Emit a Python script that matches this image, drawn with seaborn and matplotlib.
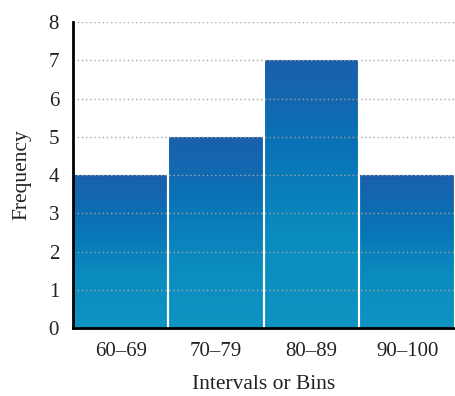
import matplotlib
matplotlib.use("Agg")
import matplotlib.pyplot as plt
import seaborn as sns
import numpy as np
import pandas as pd
from matplotlib.colors import LinearSegmentedColormap

categories = ["60\u201369", "70\u201379", "80\u201389", "90\u2013100"]
frequency = [4, 5, 7, 4]
y_ticks = [0, 1, 2, 3, 4, 5, 6, 7, 8]

sns.set_style("white")
plt.rcParams['font.family'] = ['Liberation Serif', 'DejaVu Serif']

df = pd.DataFrame({"bin": categories, "freq": frequency})

fig = plt.figure(figsize=(4.55, 3.96), dpi=100)
ax = fig.add_axes([0.1604, 0.1717, 0.8396, 0.7727])

sns.barplot(data=df, x="bin", y="freq", ax=ax, width=1.0, color="#0a78b8",
            edgecolor="white", linewidth=1.5, zorder=2)

cmap = LinearSegmentedColormap.from_list("g", ["#1b5fab", "#0873b6", "#0b8cbf", "#0f93c2"])
grad = np.linspace(0, 1, 256).reshape(-1, 1)
for p in list(ax.patches):
    x0, y0 = p.get_x(), p.get_y()
    w, h = p.get_width(), p.get_height()
    im = ax.imshow(grad, cmap=cmap, aspect="auto", extent=[x0, x0 + w, y0, y0 + h],
                   origin="upper", zorder=2.5, interpolation="bilinear")
    im.set_clip_path(p)
    ax.plot([x0, x0], [0, h], color="white", lw=1.5, zorder=2.7)
    ax.plot([x0 + w, x0 + w], [0, h], color="white", lw=1.5, zorder=2.7)

ax.set_xlim(-0.5, 3.5)
ax.set_ylim(0, 8)
ax.set_yticks(y_ticks)
ax.set_yticklabels([str(t) for t in y_ticks], fontsize=15, color="#222222")
ax.tick_params(axis="x", labelsize=15, labelcolor="#222222", pad=10, length=0)
ax.tick_params(axis="y", pad=10, length=0)

for t in y_ticks[1:]:
    ax.axhline(t, color="#a6a6a6", lw=1.0, ls=(0, (1, 2)), zorder=3)

ax.set_xlabel("Intervals or Bins", fontsize=15.5, color="#222222", labelpad=10)
ax.set_ylabel("Frequency", fontsize=15.5, color="#222222", labelpad=12)

for s in ["top", "right"]:
    ax.spines[s].set_visible(False)
for s in ["left", "bottom"]:
    ax.spines[s].set_linewidth(2)
    ax.spines[s].set_color("black")
    ax.spines[s].set_zorder(4)

fig.savefig("out.png", dpi=100)
